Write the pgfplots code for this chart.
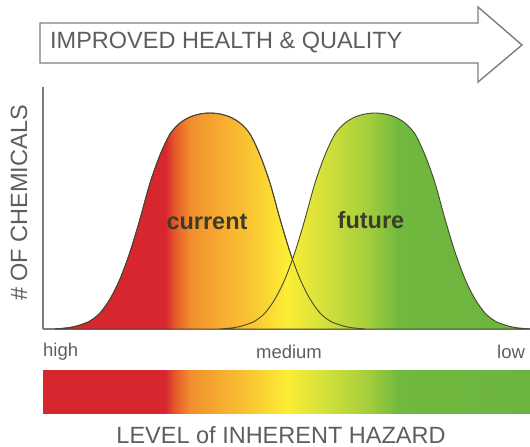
\documentclass[border=0pt]{standalone}
\usepackage{pgfplots}
\pgfplotsset{compat=1.18}
\usepackage{fontspec}
\setmainfont{Liberation Sans}
\setsansfont{Liberation Sans}

\definecolor{cRed}{HTML}{D7262D}
\definecolor{cRedOr}{HTML}{E65A2B}
\definecolor{cOr}{HTML}{F08E2E}
\definecolor{cLtOr}{HTML}{F6A830}
\definecolor{cYeOr}{HTML}{FAC832}
\definecolor{cYe}{HTML}{FCEE35}
\definecolor{cLime}{HTML}{D8E23A}
\definecolor{cLtGr}{HTML}{A5CF3C}
\definecolor{cGr}{HTML}{70B83E}
\definecolor{cGrEnd}{HTML}{6BB43F}
\definecolor{cEdgeA}{HTML}{A8D03C}
\definecolor{cStartF}{HTML}{F6AA30}
\definecolor{txtgray}{HTML}{5E5E5E}
\definecolor{outline}{HTML}{4A4632}
\definecolor{axgray}{HTML}{7E7E7E}

% current curve: bbox px 55..365
\pgfdeclarehorizontalshading{curshade}{100bp}{%
color(0bp)=(cRed); color(25bp)=(cRed); color(42.74bp)=(cRed);
color(44.35bp)=(cRedOr); color(46.77bp)=(cOr); color(51.13bp)=(cLtOr);
color(56.94bp)=(cYeOr); color(62.42bp)=(cYe); color(67.74bp)=(cLime);
color(75bp)=(cEdgeA); color(100bp)=(cEdgeA)}
% future curve: bbox px 220..530
\pgfdeclarehorizontalshading{futshade}{100bp}{%
color(0bp)=(cStartF); color(25bp)=(cStartF); color(30.32bp)=(cYeOr);
color(35.81bp)=(cYe); color(41.13bp)=(cLime); color(48.71bp)=(cLtGr);
color(54.03bp)=(cGr); color(75bp)=(cGrEnd); color(100bp)=(cGrEnd)}
% bar: bbox px 43..530
\pgfdeclarehorizontalshading{barshade}{100bp}{%
color(0bp)=(cRed); color(25bp)=(cRed); color(37.53bp)=(cRed);
color(38.55bp)=(cRedOr); color(40.09bp)=(cOr); color(42.86bp)=(cLtOr);
color(46.56bp)=(cYeOr); color(50.05bp)=(cYe); color(53.44bp)=(cLime);
color(58.27bp)=(cLtGr); color(61.65bp)=(cGr); color(75bp)=(cGrEnd); color(100bp)=(cGrEnd)}

\pgfplotstableread{
x y
12 0
27 1.5
37 4
47 8
57 16
67 30
77 50
87 77
97 110
107 146
117 174
127 195
137 206
147 212
157 215
167 216
177 215
187 212
197 206
207 195
217 174
227 146
237 110
247 77
257 50
267 30
277 16
287 8
297 4
307 1.5
322 0
}\current

\pgfplotstableread{
x y
177 0
192 1.5
202 4
212 8
222 16
232 30
242 50
252 77
262 110
272 146
282 174
292 195
302 206
312 212
322 215
332 216
342 215
352 212
362 206
372 195
382 174
392 146
402 110
412 77
422 50
432 30
442 16
452 8
462 4
472 1.5
487 0
}\future

\begin{document}
\begin{tikzpicture}
\begin{axis}[
  at={(43bp,-329bp)}, anchor=origin,
  scale only axis,
  width=487bp, height=242bp,
  xmin=0, xmax=487, ymin=0, ymax=242,
  axis lines=left,
  axis line style={-, draw=axgray, line width=1.6bp},
  ticks=none,
  clip=false,
]
% gradient scale bar
\addplot[draw=none, shade, shading=barshade] coordinates {(0,-41) (487,-41) (487,-84) (0,-84)} -- cycle;
% curves
\addplot[shade, shading=curshade, draw=outline, line width=0.9bp, smooth, tension=0.5] table[x=x,y=y] {\current} \closedcycle;
\addplot[shade, shading=futshade, draw=outline, line width=0.9bp, smooth, tension=0.5] table[x=x,y=y] {\future} \closedcycle;
% redraw current outline on top for the crossing
\addplot[draw=outline, line width=0.9bp, smooth, tension=0.5, domain=0:1] table[x=x,y=y] {\current};

\node[font=\fontsize{23.5bp}{28bp}\selectfont\bfseries, text=outline!85!black] at (axis cs:164,107) {current};
\node[font=\fontsize{23.5bp}{28bp}\selectfont\bfseries, text=outline!85!black] at (axis cs:328,109) {future};

\node[font=\fontsize{18.5bp}{22bp}\selectfont, text=txtgray, anchor=west, inner sep=0pt] at (axis cs:0,-23) {high};
\node[font=\fontsize{18.5bp}{22bp}\selectfont, text=txtgray, inner sep=0pt] at (axis cs:246,-23) {medium};
\node[font=\fontsize{18.5bp}{22bp}\selectfont, text=txtgray, anchor=west, inner sep=0pt] at (axis cs:454,-23) {low};

\node[font=\fontsize{23.5bp}{28bp}\selectfont, text=txtgray, inner sep=0pt] at (axis cs:238,-106) {LEVEL of INHERENT HAZARD};
\node[font=\fontsize{23.5bp}{28bp}\selectfont, text=txtgray, inner sep=0pt, rotate=90] at (axis cs:-24,126) {\# OF CHEMICALS};

% top arrow
\draw[draw=axgray, line width=1.4bp, fill=white, line join=miter]
  (axis cs:-3,306) -- (axis cs:435,306) -- (axis cs:435,322) -- (axis cs:479,284)
  -- (axis cs:435,247) -- (axis cs:435,266) -- (axis cs:-3,266) -- cycle;
\node[font=\fontsize{23.5bp}{28bp}\selectfont, text=txtgray, anchor=west, inner sep=0pt] at (axis cs:7,286) {IMPROVED HEALTH \& QUALITY};
\end{axis}
\pgfresetboundingbox
\useasboundingbox (0,0) rectangle (530bp,-447bp);
\end{tikzpicture}
\end{document}
